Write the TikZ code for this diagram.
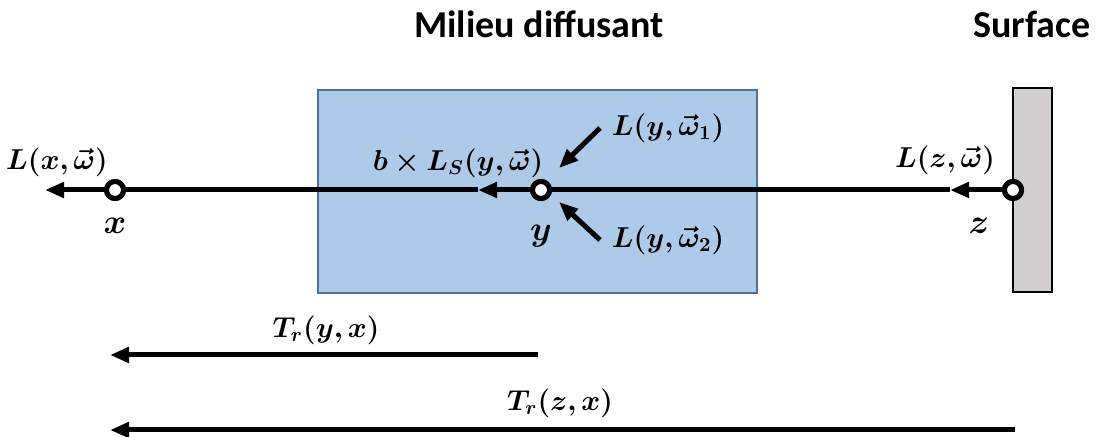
\documentclass[tikz,border=0pt]{standalone}
\usepackage{fontspec}
\setmainfont{Carlito}
\usepackage{amsmath}
\usepackage{bm}
\usetikzlibrary{arrows.meta}
\definecolor{milieu}{RGB}{173,202,232}
\definecolor{milieuborder}{RGB}{70,115,160}
\definecolor{surf}{RGB}{208,206,206}
\newcommand{\mLbl}[1]{\ensuremath{\bm{#1}}}

\begin{document}
\begin{tikzpicture}[x=0.5pt,y=-0.5pt,
  ttl/.style={anchor=base, inner sep=0pt, font=\fontsize{19}{21}\selectfont\bfseries},
  lbl/.style={inner sep=0pt, font=\fontsize{14}{16}\selectfont},
  ptlbl/.style={inner sep=0pt, font=\fontsize{16}{18}\selectfont},
  pt/.style={circle, draw, fill=white, line width=2.5pt, minimum size=8.5pt, inner sep=0pt},
  ray/.style={line width=2.5pt, -{Triangle[length=9.5pt,width=7.5pt]}},
  seg/.style={line width=2.5pt}]
\useasboundingbox (0,0) rectangle (1096,437);
% boxes
\draw[milieuborder, fill=milieu, line width=1pt] (318,90) rectangle (757,293);
\draw[black, fill=surf, line width=0.8pt] (1013,88) rectangle (1052,292);
\node[ttl] (tmilieu) at (539,38) {Milieu diffusant};
\node[ttl] (tsurf) at (1032,38) {Surface};
% points
\coordinate (xend) at (45,190);
\coordinate (yarr) at (478,190);
\coordinate (zarr) at (950,190);
\node[pt] (x) at (115,190) {};
\node[pt] (y) at (541,190) {};
\node[pt] (z) at (1013,190) {};
\coordinate (w1s) at (600,128);
\coordinate (w1e) at (559,168);
\coordinate (w2s) at (600,240);
\coordinate (w2e) at (559,202);
% rays
\draw[ray] (z) -- (zarr);
\draw[seg] (zarr) -- (y);
\draw[ray] (y) -- (yarr);
\draw[seg] (yarr) -- (x);
\draw[ray] (x) -- (xend);
\draw[ray] (w1s) -- (w1e);
\draw[ray] (w2s) -- (w2e);
\node[pt] at (x) {};
\node[pt] at (y) {};
\node[pt] at (z) {};
% labels
\node[lbl] (lx) at (57,162) {\mLbl{L(x,\vec{\omega})}};
\node[ptlbl] (nx) at (115,226) {\mLbl{x}};
\node[ptlbl] (ny) at (541,236) {\mLbl{y}};
\node[ptlbl] (nz) at (979,226) {\mLbl{z}};
\node[lbl] (lbs) at (458,163) {\mLbl{b\times L_S(y,\vec{\omega})}};
\node[lbl] (lw1) at (668,128) {\mLbl{L(y,\vec{\omega}_1)}};
\node[lbl] (lw2) at (668,240) {\mLbl{L(y,\vec{\omega}_2)}};
\node[lbl] (lz) at (945,160) {\mLbl{L(z,\vec{\omega})}};
% transmittance
\coordinate (tys) at (538,355);
\coordinate (tye) at (110,355);
\coordinate (tzs) at (1015,430);
\coordinate (tze) at (110,430);
\draw[ray] (tys) -- (tye);
\draw[ray] (tzs) -- (tze);
\node[lbl] (ltyx) at (326,330) {\mLbl{T_r(y,x)}};
\node[lbl] (ltzx) at (560,403) {\mLbl{T_r(z,x)}};
\end{tikzpicture}
\end{document}
